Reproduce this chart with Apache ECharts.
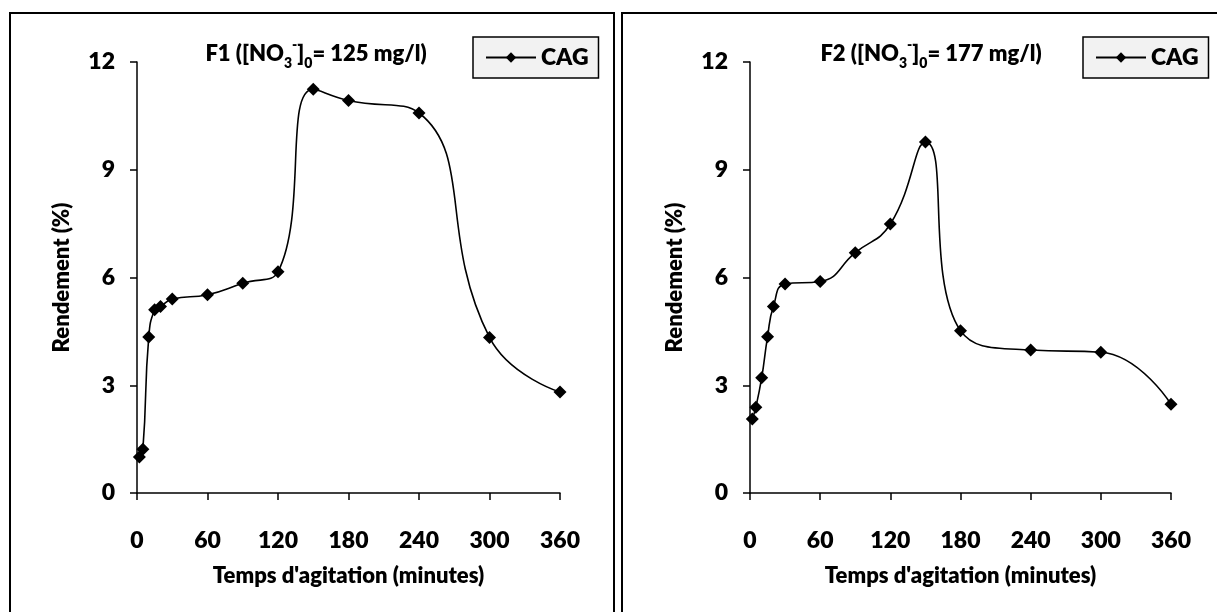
<!DOCTYPE html>
<html>
<head>
<meta charset="utf-8">
<script src="https://cdn.jsdelivr.net/npm/echarts@6/dist/echarts.min.js"></script>
<style>
html,body{margin:0;padding:0;background:#fff;}
#c{width:1217px;height:612px;}
</style>
</head>
<body>
<div id="c"></div>
<script>
// Data
var timesF1 = [2, 5, 10, 15, 20, 30, 60, 90, 120, 150, 180, 240, 300, 360];
var rendF1 = [1.0, 1.22, 4.34, 5.10, 5.19, 5.40, 5.52, 5.84, 6.16, 11.24, 10.93, 10.58, 4.33, 2.81];
var timesF2 = [2, 5, 10, 15, 20, 30, 60, 90, 120, 150, 180, 240, 300, 360];
var rendF2 = [2.06, 2.39, 3.21, 4.35, 5.19, 5.82, 5.89, 6.69, 7.49, 9.77, 4.52, 3.98, 3.92, 2.47];
var seriesName = 'CAG';
var xTitle = "Temps d'agitation (minutes)";
var yTitle = 'Rendement (%)';
var panelLabels = ['F1', 'F2'];
var concentrations = [125, 177];

var FONT = 'Lato';
var W = 800;
function pairs(xs, ys){ return xs.map(function(x,i){ return [x, ys[i]]; }); }

function richTitle(label, conc){
  return label + ' ([NO{sub|3}{sup|-}]{sub|0}= ' + conc + ' mg/l)';
}
var titleRich = {
  sub: {fontSize: 14, fontWeight: W, fontFamily: FONT, color: '#000', verticalAlign: 'bottom', lineHeight: 32},
  sup: {fontSize: 14, fontWeight: W, fontFamily: FONT, color: '#000', verticalAlign: 'top', lineHeight: 32}
};

function xAxisCfg(gi){
  return {
    gridIndex: gi, type: 'value', min: 0, max: 360, interval: 60,
    name: xTitle, nameLocation: 'middle', nameGap: 72,
    nameTextStyle: {fontFamily: FONT, fontWeight: W, fontSize: 22, color: '#000'},
    axisLine: {lineStyle: {color: '#000', width: 1.5}},
    axisTick: {show: true, inside: false, length: 7, lineStyle: {color: '#000', width: 1.5}},
    axisLabel: {fontFamily: FONT, fontWeight: W, fontSize: 23, color: '#000', margin: 36},
    splitLine: {show: false}
  };
}
function yAxisCfg(gi){
  return {
    gridIndex: gi, type: 'value', min: 0, max: 12, interval: 3,
    name: yTitle, nameLocation: 'middle', nameGap: 64, nameRotate: 90,
    nameTextStyle: {fontFamily: FONT, fontWeight: W, fontSize: 22, color: '#000'},
    axisLine: {show: true, lineStyle: {color: '#000', width: 1.5}},
    axisTick: {show: true, inside: false, length: 7, lineStyle: {color: '#000', width: 1.5}},
    axisLabel: {fontFamily: FONT, fontWeight: W, fontSize: 23, color: '#000', margin: 22},
    splitLine: {show: false}
  };
}
function seriesCfg(gi, data){
  return {
    name: seriesName, type: 'line', xAxisIndex: gi, yAxisIndex: gi,
    data: data, smooth: 0.5, symbol: 'diamond', symbolSize: 13,
    itemStyle: {color: '#000'}, lineStyle: {color: '#000', width: 1.6},
    emphasis: {disabled: true}
  };
}
function legendCfg(left){
  return {
    data: [seriesName], left: left, top: 37, orient: 'horizontal',
    backgroundColor: '#f2f2f2', borderColor: '#000', borderWidth: 1.5, borderRadius: 0,
    padding: [9, 10, 9, 12], itemWidth: 50, itemHeight: 13, itemGap: 4,
    textStyle: {fontFamily: FONT, fontWeight: W, fontSize: 23, color: '#000'}
  };
}
function titleCfg(i, cx){
  return {text: richTitle(panelLabels[i], concentrations[i]), left: cx, top: 33, textAlign: 'center',
    textStyle: {fontFamily: FONT, fontWeight: W, fontSize: 22, color: '#000', lineHeight: 32, rich: titleRich}};
}

var chart = echarts.init(document.getElementById('c'), null, {renderer: 'canvas'});
chart.setOption({
  animation: false,
  backgroundColor: '#fff',
  title: [titleCfg(0, 311), titleCfg(1, 926)],
  legend: [legendCfg(473), legendCfg(1083)],
  grid: [
    {left: 137, right: 657, top: 62, bottom: 119, containLabel: false},
    {left: 750, right: 46, top: 62, bottom: 119, containLabel: false}
  ],
  xAxis: [xAxisCfg(0), xAxisCfg(1)],
  yAxis: [yAxisCfg(0), yAxisCfg(1)],
  series: [seriesCfg(0, pairs(timesF1, rendF1)), seriesCfg(1, pairs(timesF2, rendF2))],
  graphic: [
    {type: 'rect', shape: {x: 10, y: 13, width: 604, height: 640}, style: {fill: 'none', stroke: '#000', lineWidth: 2}, silent: true},
    {type: 'rect', shape: {x: 622, y: 13, width: 640, height: 640}, style: {fill: 'none', stroke: '#000', lineWidth: 2}, silent: true}
  ]
});
</script>
</body>
</html>
